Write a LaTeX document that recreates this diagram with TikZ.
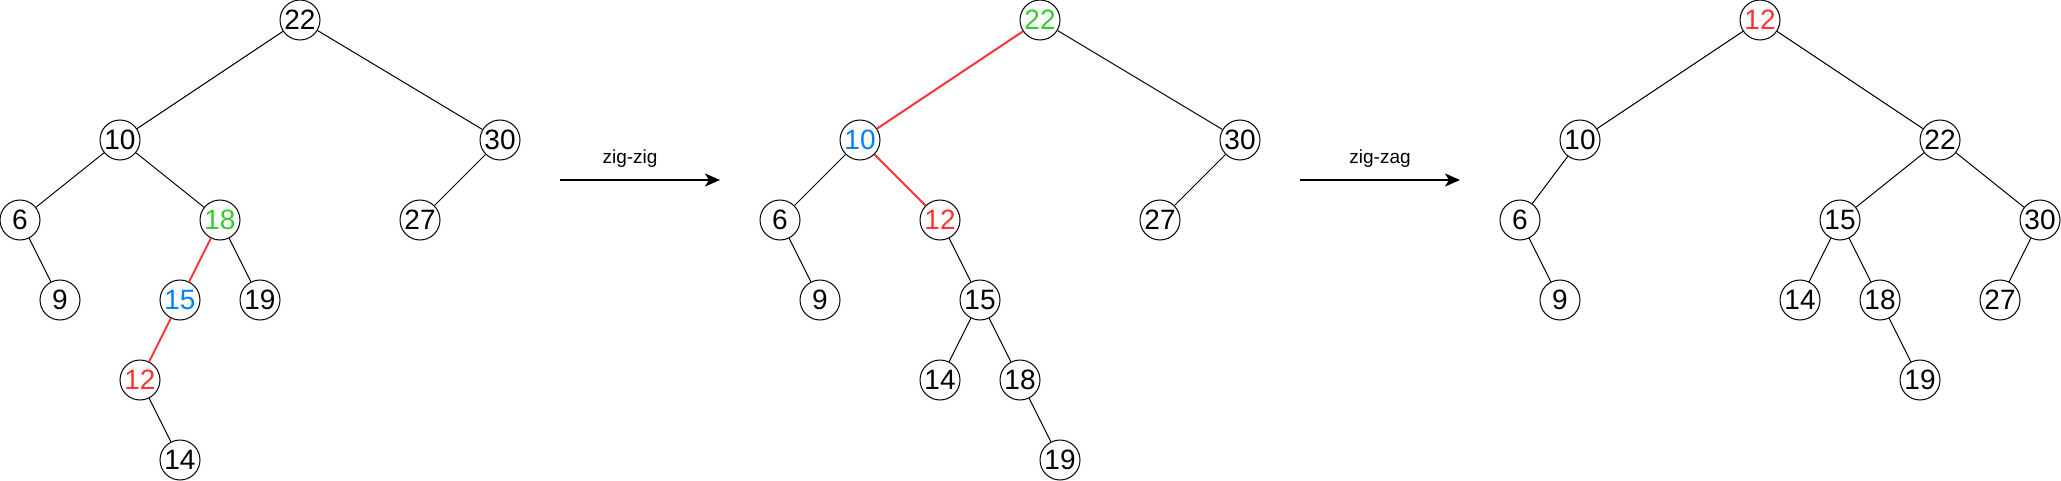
\documentclass[tikz,border=0pt]{standalone}
\usepackage{fontspec}
\setmainfont{Liberation Sans}
\usepackage{tikz}
\usetikzlibrary{arrows.meta}
\newcommand\TikzScaling{0.5pt}
\definecolor{splayred}{HTML}{FF3333}
\definecolor{splaygreen}{HTML}{33CC33}
\definecolor{splayblue}{HTML}{007FFF}
\tikzset{
  key/.style={
    shape = circle,
    draw,
    line width = 0.5pt,
    inner sep = 0pt,
    minimum size = 20pt,
    fill = white,
    font = \fontsize{14}{14}\selectfont
  },
  link/.style={
    line width = 0.5pt
  },
  hot/.style={
    line width = 1pt,
    draw = splayred
  },
  step arrow/.style={
    line width = 1pt,
    -{Stealth[length=7.5pt, width=6.5pt, inset=2pt]}
  },
  steplabel/.style={
    anchor = base,
    inner sep = 0pt,
    font = \fontsize{9.5}{9.5}\selectfont
  }
}

\begin{document}
\begin{tikzpicture}[x=\TikzScaling, y=-\TikzScaling]
\useasboundingbox (0,0) rectangle (2061,481);

       % before: 12 is the key we look for
       \node[key] (a22) at (300,20) {22};
       \node[key] (a10) at (120,140) {10};
       \node[key] (a30) at (500,140) {30};
       \node[key] (a6) at (20,220) {6};
       \node[key, text=splaygreen] (a18) at (220,220) {18};
       \node[key] (a27) at (420,220) {27};
       \node[key] (a9) at (60,300) {9};
       \node[key, text=splayblue] (a15) at (180,300) {15};
       \node[key] (a19) at (260,300) {19};
       \node[key, text=splayred] (a12) at (140,380) {12};
       \node[key] (a14) at (180,460) {14};

       \draw[link] (a22) -- (a10);
       \draw[link] (a22) -- (a30);
       \draw[link] (a10) -- (a6);
       \draw[link] (a10) -- (a18);
       \draw[link] (a30) -- (a27);
       \draw[link] (a6) -- (a9);
       \draw[hot] (a18) -- (a15);
       \draw[link] (a18) -- (a19);
       \draw[hot] (a15) -- (a12);
       \draw[link] (a12) -- (a14);

       \coordinate (s1) at (560,180);
       \coordinate (e1) at (720,180);
       \draw[step arrow] (s1) -- (e1);
       \node[steplabel] (l1) at (630,163) {zig-zig};

       % after zig-zig
       \node[key, text=splaygreen] (b22) at (1040,20) {22};
       \node[key, text=splayblue] (b10) at (860,140) {10};
       \node[key] (b30) at (1240,140) {30};
       \node[key] (b6) at (780,220) {6};
       \node[key, text=splayred] (b12) at (940,220) {12};
       \node[key] (b27) at (1160,220) {27};
       \node[key] (b9) at (820,300) {9};
       \node[key] (b15) at (980,300) {15};
       \node[key] (b14) at (940,380) {14};
       \node[key] (b18) at (1020,380) {18};
       \node[key] (b19) at (1060,460) {19};

       \draw[hot] (b22) -- (b10);
       \draw[link] (b22) -- (b30);
       \draw[link] (b10) -- (b6);
       \draw[hot] (b10) -- (b12);
       \draw[link] (b30) -- (b27);
       \draw[link] (b6) -- (b9);
       \draw[link] (b12) -- (b15);
       \draw[link] (b15) -- (b14);
       \draw[link] (b15) -- (b18);
       \draw[link] (b18) -- (b19);

       \coordinate (s2) at (1300,180);
       \coordinate (e2) at (1460,180);
       \draw[step arrow] (s2) -- (e2);
       \node[steplabel] (l2) at (1380,163) {zig-zag};

       % after zig-zag
       \node[key, text=splayred] (c12) at (1760,20) {12};
       \node[key] (c10) at (1580,140) {10};
       \node[key] (c22) at (1940,140) {22};
       \node[key] (c6) at (1520,220) {6};
       \node[key] (c15) at (1840,220) {15};
       \node[key] (c30) at (2040,220) {30};
       \node[key] (c9) at (1560,300) {9};
       \node[key] (c14) at (1800,300) {14};
       \node[key] (c18) at (1880,300) {18};
       \node[key] (c27) at (2000,300) {27};
       \node[key] (c19) at (1920,380) {19};

       \draw[link] (c12) -- (c10);
       \draw[link] (c12) -- (c22);
       \draw[link] (c10) -- (c6);
       \draw[link] (c6) -- (c9);
       \draw[link] (c22) -- (c15);
       \draw[link] (c22) -- (c30);
       \draw[link] (c15) -- (c14);
       \draw[link] (c15) -- (c18);
       \draw[link] (c18) -- (c19);
       \draw[link] (c30) -- (c27);
\end{tikzpicture}
\end{document}
